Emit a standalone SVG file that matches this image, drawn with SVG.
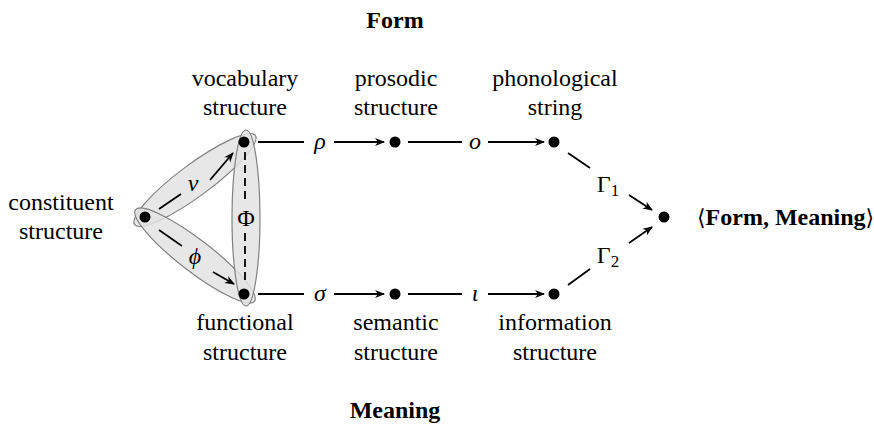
<svg xmlns="http://www.w3.org/2000/svg" width="874" height="424" viewBox="0 0 874 424">
<defs>
<style>
text{font-family:"Liberation Serif","Times New Roman",serif;font-size:24px;fill:#000}
.lbl{text-anchor:middle}
.b{font-weight:bold}
.m{font-style:italic;text-anchor:middle}
.u{text-anchor:middle}
.ln{stroke:#000;stroke-width:1.8;fill:none}
.ar{stroke:#000;stroke-width:1.8;fill:none;marker-end:url(#ah)}
.dash{stroke:#000;stroke-width:1.8;fill:none;stroke-dasharray:8 5}
.ell{fill:#e3e3e3;fill-opacity:0.85;stroke:#808080;stroke-width:1.2}
.dot{fill:#000}
</style>
<marker id="ah" viewBox="0 0 10 10" refX="9" refY="5" markerWidth="10" markerHeight="10" markerUnits="userSpaceOnUse" orient="auto">
<path d="M0,1 L10,5 L0,9 L3,5 Z" fill="#000"/>
</marker>
</defs>
<rect width="874" height="424" fill="#fff"/>

<text class="lbl b" x="395" y="28">Form</text>
<text class="lbl b" x="395" y="418">Meaning</text>

<g id="ellipses">
<ellipse class="ell" cx="195" cy="180" rx="75" ry="16" transform="rotate(-36.5 195 180)"/>
<ellipse class="ell" cx="195" cy="255.5" rx="75" ry="16" transform="rotate(37.6 195 255.5)"/>
<ellipse class="ell" cx="246" cy="218" rx="14" ry="88"/>
</g>

<g id="connectors">
<line class="ln" x1="159" y1="209" x2="181" y2="194"/>
<line class="ar" x1="210" y1="180" x2="233" y2="153"/>
<line class="ln" x1="159" y1="230" x2="182" y2="246"/>
<line class="ar" x1="213" y1="272" x2="234" y2="284"/>
<line class="dash" x1="245" y1="152" x2="245" y2="204"/>
<line class="dash" x1="245" y1="233" x2="245" y2="285"/>
<line class="ln" x1="258" y1="142" x2="304" y2="142"/>
<line class="ar" x1="334" y1="142" x2="384" y2="142"/>
<line class="ln" x1="408" y1="142" x2="462" y2="142"/>
<line class="ar" x1="488" y1="142" x2="544" y2="142"/>
<line class="ln" x1="258" y1="294" x2="304" y2="294"/>
<line class="ar" x1="334" y1="294" x2="384" y2="294"/>
<line class="ln" x1="408" y1="294" x2="462" y2="294"/>
<line class="ar" x1="488" y1="294" x2="544" y2="294"/>
<line class="ln" x1="568" y1="153" x2="590" y2="168"/>
<line class="ar" x1="629" y1="195" x2="652" y2="210"/>
<line class="ln" x1="568" y1="285" x2="590" y2="269"/>
<line class="ar" x1="629" y1="243" x2="652" y2="227"/>
<text class="m" x="193" y="191">ν</text>
<text class="m" x="195" y="264">ϕ</text>
<text class="u" x="246" y="226">Φ</text>
<text class="m" x="320" y="149">ρ</text>
<text class="m" x="475" y="149">o</text>
<text class="m" x="320" y="301">σ</text>
<text class="m" x="475" y="301">ι</text>
<text class="u" x="608" y="192">Γ<tspan font-size="17" dy="4">1</tspan></text>
<text class="u" x="608" y="263">Γ<tspan font-size="17" dy="4">2</tspan></text>
</g>

<g id="n-constituent">
<circle class="dot" cx="145" cy="217" r="5.5"/>
<text class="lbl" x="61" y="210">constituent</text>
<text class="lbl" x="61" y="239">structure</text>
</g>
<g id="n-vocabulary">
<circle class="dot" cx="244" cy="142" r="5.5"/>
<text class="lbl" x="245" y="86">vocabulary</text>
<text class="lbl" x="245" y="115">structure</text>
</g>
<g id="n-functional">
<circle class="dot" cx="244" cy="294" r="5.5"/>
<text class="lbl" x="245" y="330">functional</text>
<text class="lbl" x="245" y="360">structure</text>
</g>
<g id="n-prosodic">
<circle class="dot" cx="395" cy="142" r="5.5"/>
<text class="lbl" x="396" y="86">prosodic</text>
<text class="lbl" x="396" y="115">structure</text>
</g>
<g id="n-phonological">
<circle class="dot" cx="554" cy="142" r="5.5"/>
<text class="lbl" x="555" y="86">phonological</text>
<text class="lbl" x="555" y="115">string</text>
</g>
<g id="n-semantic">
<circle class="dot" cx="395" cy="294" r="5.5"/>
<text class="lbl" x="396" y="330">semantic</text>
<text class="lbl" x="396" y="360">structure</text>
</g>
<g id="n-information">
<circle class="dot" cx="554" cy="294" r="5.5"/>
<text class="lbl" x="555" y="330">information</text>
<text class="lbl" x="555" y="360">structure</text>
</g>
<g id="n-pair">
<circle class="dot" cx="664" cy="217" r="5.5"/>
<text class="b" x="697" y="225"><tspan font-family="'DejaVu Serif',serif" font-weight="normal" font-size="22">⟨</tspan>Form, Meaning<tspan font-family="'DejaVu Serif',serif" font-weight="normal" font-size="22">⟩</tspan></text>
</g>
</svg>
